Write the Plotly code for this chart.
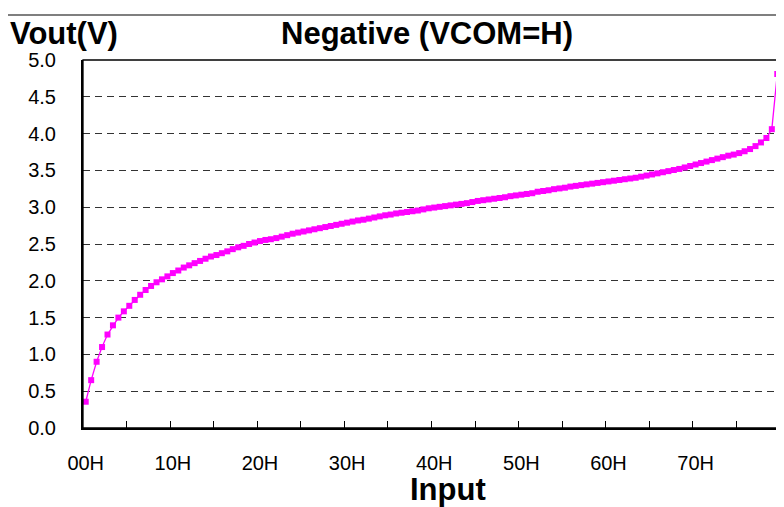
import plotly.graph_objects as go

# Input codes 0x00 .. 0x7F
codes = list(range(128))
vout = [
    0.357, 0.65, 0.90, 1.10, 1.27, 1.395, 1.50, 1.585, 1.66, 1.74,
    1.81, 1.875, 1.93, 1.98, 2.02, 2.06, 2.105, 2.14, 2.18, 2.21,
    2.24, 2.27, 2.30, 2.33, 2.35, 2.375, 2.40, 2.43, 2.455, 2.475,
    2.50, 2.52, 2.54, 2.555, 2.565, 2.58, 2.60, 2.62, 2.64, 2.655,
    2.67, 2.685, 2.70, 2.715, 2.73, 2.745, 2.76, 2.775, 2.79, 2.805,
    2.82, 2.83, 2.845, 2.86, 2.875, 2.89, 2.90, 2.915, 2.925, 2.935,
    2.945, 2.955, 2.97, 2.985, 2.995, 3.005, 3.015, 3.025, 3.035, 3.045,
    3.055, 3.07, 3.085, 3.095, 3.105, 3.115, 3.125, 3.135, 3.15, 3.16,
    3.17, 3.18, 3.19, 3.21, 3.22, 3.23, 3.245, 3.255, 3.265, 3.28,
    3.29, 3.30, 3.31, 3.32, 3.33, 3.34, 3.35, 3.36, 3.37, 3.38,
    3.39, 3.40, 3.415, 3.43, 3.445, 3.46, 3.475, 3.49, 3.505, 3.52,
    3.54, 3.56, 3.58, 3.60, 3.62, 3.64, 3.66, 3.68, 3.70, 3.715,
    3.735, 3.76, 3.79, 3.83, 3.88, 3.94, 4.06, 4.81,
]

x_label_vals = [0, 16, 32, 48, 64, 80, 96, 112]
x_label_text = ["00H", "10H", "20H", "30H", "40H", "50H", "60H", "70H"]
x_tick_marks = [7.5 + 8 * k for k in range(15)]
y_tick_vals = [0.0, 0.5, 1.0, 1.5, 2.0, 2.5, 3.0, 3.5, 4.0, 4.5, 5.0]
y_tick_text = ["0.0", "0.5", "1.0", "1.5", "2.0", "2.5", "3.0", "3.5", "4.0", "4.5", "5.0"]

title_text = "Negative (VCOM=H)"
y_title = "Vout(V)"
x_title = "Input"

FONT = "Liberation Sans, Arial, sans-serif"

fig = go.Figure()
fig.add_trace(go.Scatter(
    x=codes, y=vout, mode="lines+markers",
    line=dict(color="#FF00FF", width=1.3),
    marker=dict(symbol="square", size=6, color="#FF00FF"),
    showlegend=False,
))

fig.update_layout(
    width=776, height=499,
    margin=dict(l=75, r=4, t=52, b=79),
    paper_bgcolor="white", plot_bgcolor="white",
    font=dict(family=FONT, color="black"),
    xaxis=dict(
        range=[-0.5, 127.5], tickmode="array",
        tickvals=x_label_vals, ticktext=x_label_text,
        ticks="", showgrid=False, zeroline=False,
        showline=True, linecolor="black", linewidth=2,
        tickfont=dict(size=20, family=FONT, color="black"),
        ticklabelstandoff=16,
        minor=dict(tickmode="array", tickvals=x_tick_marks, ticks="inside",
                   ticklen=7, tickwidth=1.3, tickcolor="black", showgrid=False),
    ),
    yaxis=dict(
        range=[0, 5.0], tickmode="array",
        tickvals=y_tick_vals, ticktext=y_tick_text,
        ticks="", showgrid=True, gridcolor="#333333", gridwidth=1,
        griddash="7px,5px", zeroline=False,
        showline=True, linecolor="black", linewidth=2,
        tickfont=dict(size=20, family=FONT, color="black"),
        ticklabelstandoff=21,
    ),
    shapes=[
        dict(type="rect", xref="paper", yref="paper", x0=0, x1=1, y0=0, y1=1,
             line=dict(color="black", width=1.3), layer="above"),
        dict(type="rect", xref="paper", yref="paper", x0=-0.109, x1=1.05,
             y0=-0.35, y1=1.1223, line=dict(color="black", width=1.2),
             layer="above"),
    ],
    annotations=[
        dict(text="<b>%s</b>" % title_text, xref="paper", yref="paper",
             x=0.493, y=1.071, xanchor="center", yanchor="middle",
             showarrow=False, font=dict(size=31, family=FONT, color="black")),
        dict(text="<b>%s</b>" % y_title, xref="paper", yref="paper",
             x=-0.107, y=1.071, xanchor="left", yanchor="middle",
             showarrow=False, font=dict(size=31, family=FONT, color="black")),
        dict(text="<b>%s</b>" % x_title, xref="paper", yref="paper",
             x=0.523, y=-0.166, xanchor="center", yanchor="middle",
             showarrow=False, font=dict(size=31, family=FONT, color="black")),
    ],
)

fig.write_html("out.html")
